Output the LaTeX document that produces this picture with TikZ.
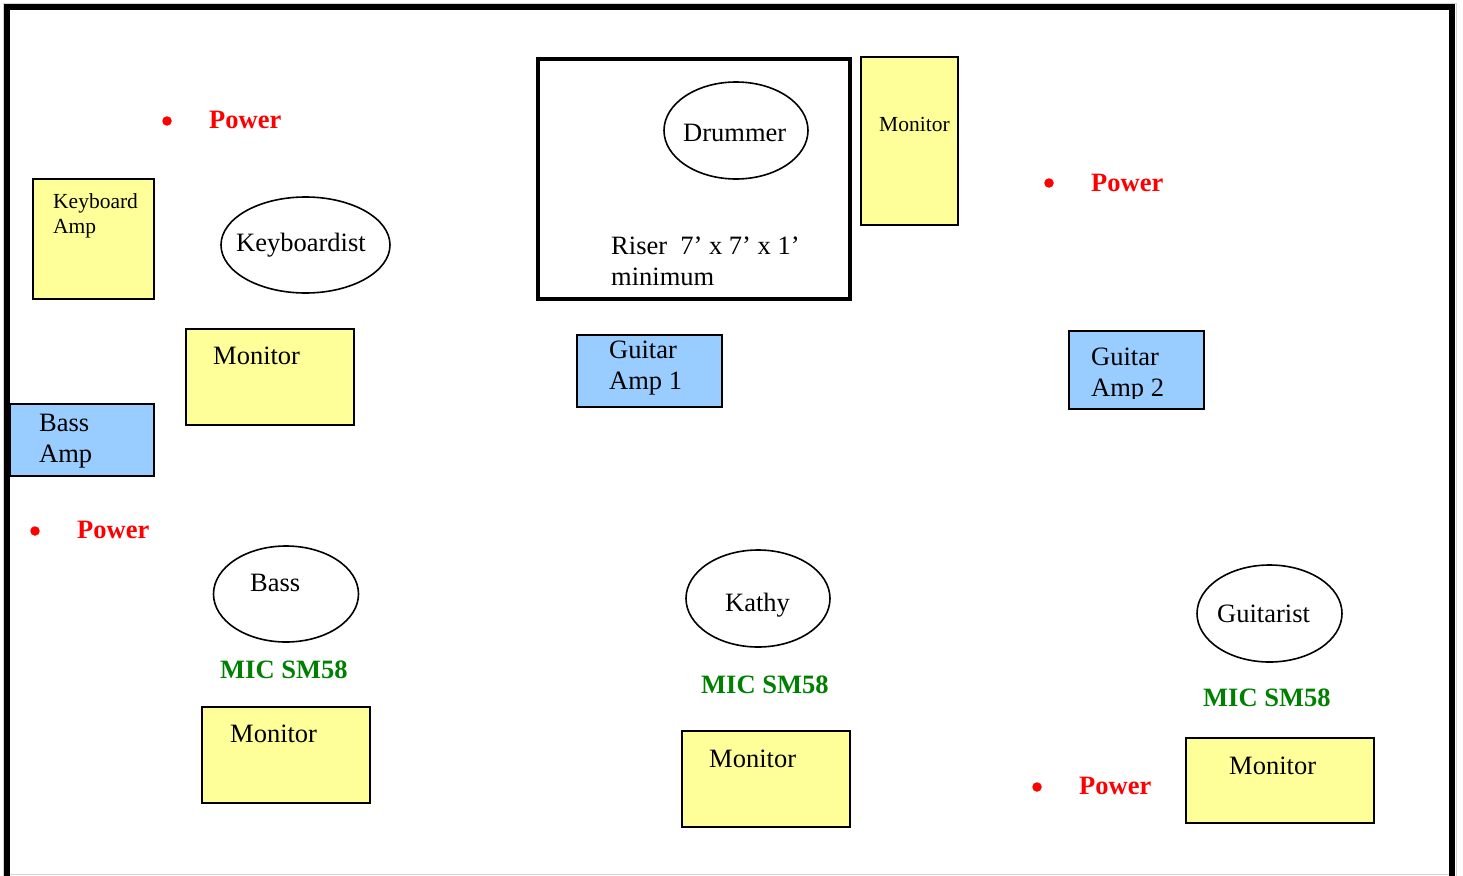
\documentclass[tikz,border=0pt]{standalone}
\usepackage{fontspec}
\setmainfont{Liberation Serif}
\usetikzlibrary{shapes.geometric}
\definecolor{ampyellow}{HTML}{FFFF99}
\definecolor{ampblue}{HTML}{99CCFF}
\definecolor{powred}{HTML}{FF0000}
\definecolor{micgreen}{HTML}{008000}
\newcommand{\mainsz}{\fontsize{26.5}{31}\selectfont}
\newcommand{\smallsz}{\fontsize{21.5}{25}\selectfont}
\tikzset{
  ybox/.style={draw, line width=2pt, fill=ampyellow, rectangle, inner sep=0pt},
  bbox/.style={draw, line width=2pt, fill=ampblue, rectangle, inner sep=0pt},
  person/.style={draw, line width=1.6pt, ellipse, inner sep=0pt},
  txt/.style={anchor=base west, inner sep=0pt, font=\mainsz, align=left},
  stxt/.style={anchor=base west, inner sep=0pt, font=\smallsz, align=left},
  powtxt/.style={anchor=base west, inner sep=0pt, font=\mainsz\bfseries, text=powred},
  mictxt/.style={anchor=base west, inner sep=0pt, font=\mainsz\bfseries, text=micgreen},
  bullet/.style={circle, fill=powred, minimum size=9.5pt, inner sep=0pt},
}
\begin{document}
\begin{tikzpicture}[x=1pt, y=-1pt]
\useasboundingbox (0,0) rectangle (1463,875);
% faint page edge and outer frame (bottom edge lies below the picture)
\draw[gray!35, line width=1pt] (3.5,880) -- (3.5,3.5) -- (1456,3.5) -- (1456,880);
\draw[gray!35, line width=1pt] (3.5,874) -- (1450,874);
\draw[line width=6pt] (6.5,890) -- (6.5,7) -- (1452,7) -- (1452,890);

% Riser (multi-line nodes: base = last line's baseline)
\node[draw, line width=4pt, rectangle, inner sep=0pt, minimum width=312pt, minimum height=240pt] (riser) at (694,179) {};
\node[txt] (risertxt) at (611,285) {Riser\ \ 7’ x 7’ x 1’\\minimum};
\node[person, minimum width=144pt, minimum height=97pt] (drummer) at (736,130.5) {};
\node[txt] (drummertxt) at (683,141) {Drummer};
\node[ybox, minimum width=97pt, minimum height=168pt] (mondrum) at (909.5,141) {};
\node[stxt] (mondrumtxt) at (879,131) {Monitor};

% Keyboard area
\node[bullet] (p1) at (167,121) {};
\node[powtxt] (p1txt) at (209,128) {Power};
\node[ybox, minimum width=121pt, minimum height=120pt] (kbamp) at (93.5,239) {};
\node[stxt] (kbamptxt) at (53,233) {Keyboard\\Amp};
\node[person, minimum width=169pt, minimum height=96pt] (kb) at (305.5,245) {};
\node[txt] (kbtxt) at (236,251) {Keyboardist};
\node[ybox, minimum width=168pt, minimum height=96pt] (monkb) at (270,377) {};
\node[txt] (monkbtxt) at (213,364) {Monitor};
\node[bbox, minimum width=144pt, minimum height=72pt] (bassamp) at (82,440) {};
\node[txt] (bassamptxt) at (39,462) {Bass\\Amp};

% Bass area
\node[bullet] (p2) at (35,531) {};
\node[powtxt] (p2txt) at (77,538) {Power};
\node[person, minimum width=145pt, minimum height=96pt] (bass) at (286,594) {};
\node[txt] (basstxt) at (250,591) {Bass};
\node[mictxt] (mic1) at (220,678) {MIC SM58};
\node[ybox, minimum width=168pt, minimum height=96pt] (monbass) at (286,755) {};
\node[txt] (monbasstxt) at (230,742) {Monitor};

% Guitar amps
\node[bbox, minimum width=145pt, minimum height=72pt] (gamp1) at (649.5,371) {};
\node[txt] (gamp1txt) at (609,389) {Guitar\\Amp 1};
\node[bullet] (p3) at (1049,183) {};
\node[powtxt] (p3txt) at (1091,191) {Power};
\node[bbox, minimum width=135pt, minimum height=78pt] (gamp2) at (1136.5,370) {};
\begin{scope}
  \clip (1071,332) rectangle (1203,398.5);
  \node[txt] (gamp2txt) at (1091,396) {Guitar\\Amp 2};
\end{scope}

% Kathy
\node[person, minimum width=144pt, minimum height=97pt] (kathy) at (758,598.5) {};
\node[txt] (kathytxt) at (725,611) {Kathy};
\node[mictxt] (mic2) at (701,693) {MIC SM58};
\node[ybox, minimum width=168pt, minimum height=96pt] (monkathy) at (766,779) {};
\node[txt] (monkathytxt) at (709,767) {Monitor};

% Guitarist
\node[person, minimum width=145pt, minimum height=97pt] (guit) at (1269.5,613.5) {};
\node[txt] (guittxt) at (1217,622) {Guitarist};
\node[mictxt] (mic3) at (1203,706) {MIC SM58};
\node[ybox, minimum width=188pt, minimum height=85pt] (monguit) at (1280,780.5) {};
\node[txt] (monguittxt) at (1229,774) {Monitor};
\node[bullet] (p4) at (1037,787) {};
\node[powtxt] (p4txt) at (1079,794) {Power};
\end{tikzpicture}
\end{document}
